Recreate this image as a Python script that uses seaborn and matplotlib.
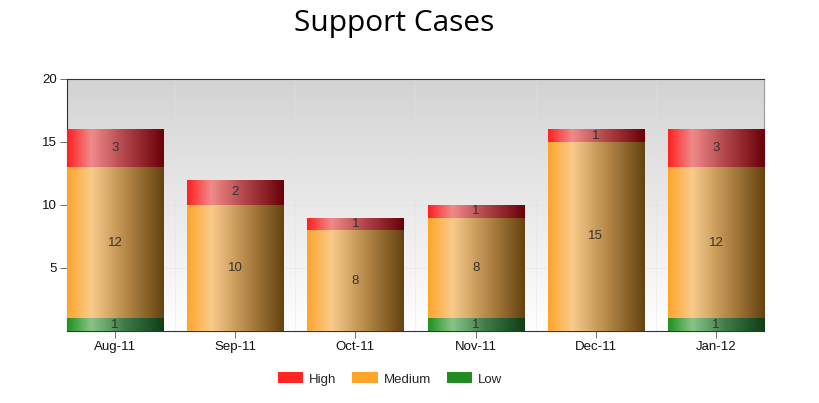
import numpy as np
import pandas as pd
import matplotlib
matplotlib.use("Agg")
import matplotlib.pyplot as plt
from matplotlib.colors import LinearSegmentedColormap
from matplotlib.patches import Patch
import seaborn as sns

months = ["Aug-11", "Sep-11", "Oct-11", "Nov-11", "Dec-11", "Jan-12"]
low = [1, 0, 0, 1, 0, 1]
medium = [12, 10, 8, 8, 15, 12]
high = [3, 2, 1, 1, 1, 3]

df = pd.DataFrame({"month": months, "Low": low, "Medium": medium, "High": high})
df["low_top"] = df["Low"]
df["medium_top"] = df["Low"] + df["Medium"]
df["high_top"] = df["medium_top"] + df["High"]

sns.set_style("white")
plt.rcParams["font.family"] = ["Liberation Sans", "DejaVu Sans"]

fig = plt.figure(figsize=(8.2, 4.03), dpi=100)
ax = fig.add_axes([67 / 820, 1 - 331 / 403, 697 / 820, 252 / 403])

# background gradient (gray at top -> white at bottom)
bg = np.linspace(1.0, 0.0, 256).reshape(-1, 1)
bg_cmap = LinearSegmentedColormap.from_list("bg", ["#ffffff", "#d3d3d3"])
ax.imshow(bg, cmap=bg_cmap, extent=(0, 1, 0, 1), transform=ax.transAxes,
          aspect="auto", zorder=0, vmin=0, vmax=1)

grads = {
    "High": LinearSegmentedColormap.from_list(
        "h", [(0, "#ff2020"), (0.25, "#f08a8a"), (0.6, "#b04448"), (1, "#6a0008")]),
    "Medium": LinearSegmentedColormap.from_list(
        "m", [(0, "#ffa52a"), (0.25, "#f9cb8c"), (0.6, "#b88a4a"), (1, "#644310")]),
    "Low": LinearSegmentedColormap.from_list(
        "l", [(0, "#229022"), (0.25, "#88c488"), (0.6, "#3e7a46"), (1, "#0e3e16")]),
}
legend_colors = {"High": "#ff2525", "Medium": "#ffa52a", "Low": "#228b22"}

layers = [("high_top", "High", high), ("medium_top", "Medium", medium), ("low_top", "Low", low)]
grad = np.linspace(0, 1, 256).reshape(1, -1)

for k, (col, name, vals) in enumerate(layers):
    n_before = len(ax.patches)
    sns.barplot(data=df, x="month", y=col, color=legend_colors[name], width=0.8,
                ax=ax, edgecolor="#d8d8d8", linewidth=0.6, zorder=2)
    for p, v in zip(ax.patches[n_before:], vals):
        x0, y0 = p.get_x(), p.get_y()
        w, h = p.get_width(), p.get_height()
        if h <= 0:
            continue
        im = ax.imshow(grad, cmap=grads[name], extent=(x0, x0 + w, y0, y0 + h),
                       aspect="auto", zorder=3 + k * 0.1)
        im.set_clip_path(p)

# value labels in the middle of each segment
for i in range(len(months)):
    base = 0
    for name, vals in [("Low", low), ("Medium", medium), ("High", high)]:
        v = vals[i]
        if v > 0:
            ax.text(i, base + v / 2, str(v), ha="center", va="center",
                    fontsize=9.5, color="#333333", zorder=10)
        base += v

ax.set_xlim(-0.4, 5.4)
ax.set_ylim(0, 20)
ax.set_yticks([5, 10, 15, 20])
ax.set_xlabel("")
ax.set_ylabel("")
ax.tick_params(axis="both", labelsize=9.5, length=5, width=0.6, color="#555555",
               direction="out", left=True, bottom=True, pad=2)
for t in ax.get_xticklabels() + ax.get_yticklabels():
    t.set_color("#111111")

ax.set_xticks(np.arange(len(months)), minor=False)
ax.set_xticks(np.arange(len(months) - 1) + 0.5, minor=True)
ax.grid(axis="y", color="#e2e2e2", linewidth=0.5, alpha=0.7, zorder=1)
ax.grid(axis="x", which="minor", color="#e2e2e2", linewidth=0.5, alpha=0.5, zorder=1)
ax.tick_params(axis="x", which="minor", length=0)
ax.set_axisbelow(True)

for s in ["left", "bottom", "top"]:
    ax.spines[s].set_color("#333333")
    ax.spines[s].set_linewidth(0.8)
ax.spines["right"].set_color("#999999")
ax.spines["right"].set_linewidth(0.8)

fig.text(394 / 820, 1 - 24 / 403, "Support Cases", ha="center", va="center",
         fontsize=21.5, family=["Open Sans", "DejaVu Sans"], color="#000000")

handles = [Patch(facecolor=legend_colors[n], edgecolor="none") for n in ["High", "Medium", "Low"]]
fig.legend(handles, ["High", "Medium", "Low"], loc="center", ncol=3,
           bbox_to_anchor=(390 / 820, 1 - 379 / 403), frameon=False, fontsize=9.5,
           handlelength=1.9, handleheight=0.9, columnspacing=1.2, handletextpad=0.45)

fig.savefig("out.png", dpi=100)
